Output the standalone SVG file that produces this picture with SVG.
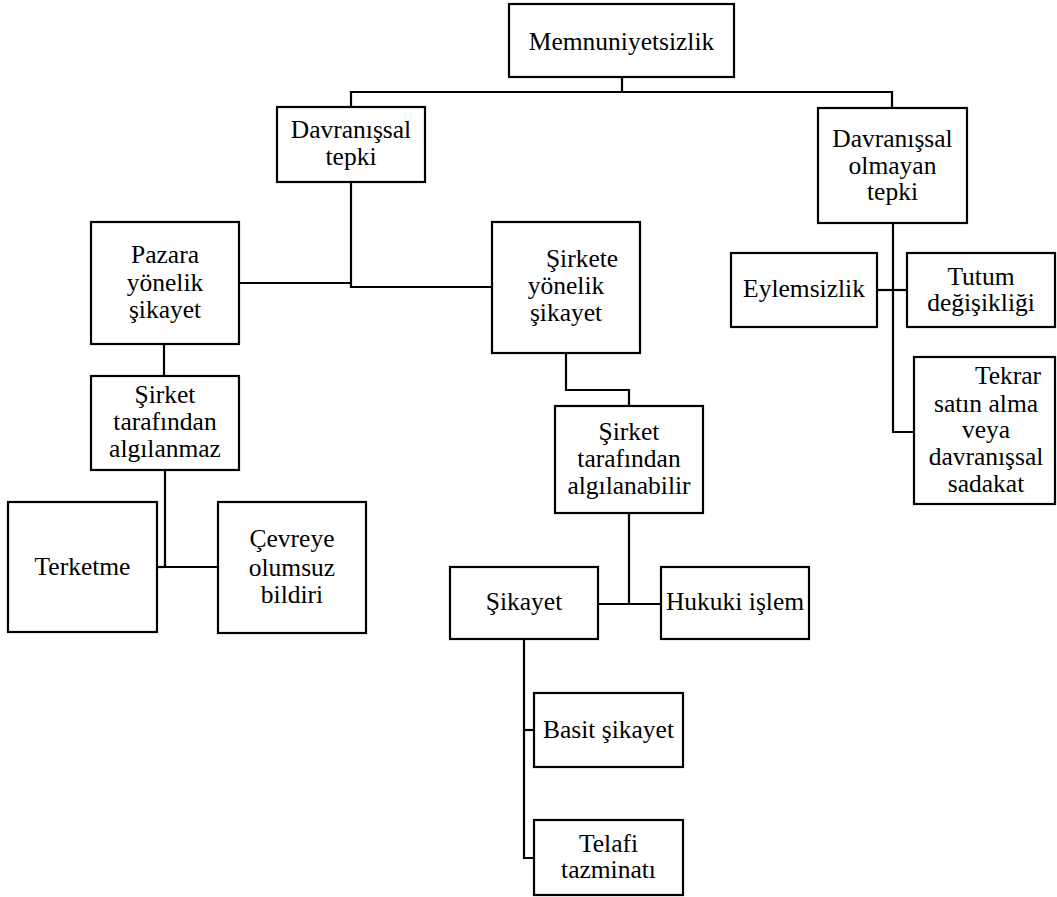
<svg xmlns="http://www.w3.org/2000/svg" width="1057" height="897" viewBox="0 0 1057 897">
  <style>
    .box { fill: #ffffff; stroke: #000000; stroke-width: 2.2; }
    .lbl { font-family: "Liberation Serif", "Times New Roman", Times, serif; font-size: 25.5px; fill: #000000; text-anchor: middle; }
    .wire { fill: none; stroke: #000000; stroke-width: 2.2; }
  </style>
  <rect width="1057" height="897" fill="#ffffff"/>

  <!-- connectors -->
  <g id="connectors">
    <path class="wire" d="M622 77 V92"/>
    <path class="wire" d="M351 107 V92 H892 V108"/>
    <path class="wire" d="M351 182 V287 H492"/>
    <path class="wire" d="M239 283 H351"/>
    <path class="wire" d="M164 344 V376"/>
    <path class="wire" d="M165 470 V567 H218"/>
    <path class="wire" d="M157 567 H165"/>
    <path class="wire" d="M566 353 V390 H629 V406"/>
    <path class="wire" d="M629 513 V604"/>
    <path class="wire" d="M598 604 H661"/>
    <path class="wire" d="M524 639 V858 H534"/>
    <path class="wire" d="M524 730 H534"/>
    <path class="wire" d="M893 223 V432 H914"/>
    <path class="wire" d="M877 290 H907"/>
  </g>

  <g id="memnuniyetsizlik">
    <rect class="box" x="509" y="4" width="225" height="73"/>
    <text class="lbl" x="621.5" y="50">Memnuniyetsizlik</text>
  </g>

  <g id="davranissal-tepki">
    <rect class="box" x="277" y="107" width="148" height="75"/>
    <text class="lbl" x="351" y="138">Davranışsal</text>
    <text class="lbl" x="351" y="165">tepki</text>
  </g>

  <g id="davranissal-olmayan-tepki">
    <rect class="box" x="818" y="108" width="149" height="115"/>
    <text class="lbl" x="892.5" y="147">Davranışsal</text>
    <text class="lbl" x="892.5" y="174">olmayan</text>
    <text class="lbl" x="892.5" y="200">tepki</text>
  </g>

  <g id="pazara-yonelik-sikayet">
    <rect class="box" x="91" y="222" width="148" height="122"/>
    <text class="lbl" x="165" y="263">Pazara</text>
    <text class="lbl" x="165" y="291">yönelik</text>
    <text class="lbl" x="165" y="318">şikayet</text>
  </g>

  <g id="sirkete-yonelik-sikayet">
    <rect class="box" x="492" y="222" width="148" height="131"/>
    <text class="lbl" x="582" y="267">Şirkete</text>
    <text class="lbl" x="566" y="294">yönelik</text>
    <text class="lbl" x="566" y="321">şikayet</text>
  </g>

  <g id="algilanmaz">
    <rect class="box" x="91" y="376" width="148" height="94"/>
    <text class="lbl" x="165" y="403">Şirket</text>
    <text class="lbl" x="165" y="430">tarafından</text>
    <text class="lbl" x="165" y="457">algılanmaz</text>
  </g>

  <g id="algilanabilir">
    <rect class="box" x="555" y="406" width="148" height="107"/>
    <text class="lbl" x="629" y="440">Şirket</text>
    <text class="lbl" x="629" y="467">tarafından</text>
    <text class="lbl" x="629" y="494">algılanabilir</text>
  </g>

  <g id="terketme">
    <rect class="box" x="8" y="502" width="149" height="130"/>
    <text class="lbl" x="82.5" y="575">Terketme</text>
  </g>

  <g id="cevreye-olumsuz-bildiri">
    <rect class="box" x="218" y="502" width="148" height="131"/>
    <text class="lbl" x="292" y="547">Çevreye</text>
    <text class="lbl" x="292" y="576">olumsuz</text>
    <text class="lbl" x="292" y="603">bildiri</text>
  </g>

  <g id="sikayet">
    <rect class="box" x="450" y="567" width="148" height="72"/>
    <text class="lbl" x="524" y="610">Şikayet</text>
  </g>

  <g id="hukuki-islem">
    <rect class="box" x="661" y="567" width="148" height="72"/>
    <text class="lbl" x="735" y="610">Hukuki işlem</text>
  </g>

  <g id="basit-sikayet">
    <rect class="box" x="534" y="693" width="149" height="74"/>
    <text class="lbl" x="608.5" y="738">Basit şikayet</text>
  </g>

  <g id="telafi-tazminati">
    <rect class="box" x="534" y="820" width="149" height="75"/>
    <text class="lbl" x="608.5" y="852">Telafi</text>
    <text class="lbl" x="608.5" y="878">tazminatı</text>
  </g>

  <g id="eylemsizlik">
    <rect class="box" x="731" y="253" width="146" height="74"/>
    <text class="lbl" x="804" y="297">Eylemsizlik</text>
  </g>

  <g id="tutum-degisikligi">
    <rect class="box" x="907" y="253" width="148" height="74"/>
    <text class="lbl" x="981" y="285">Tutum</text>
    <text class="lbl" x="981" y="311">değişikliği</text>
  </g>

  <g id="tekrar-satin-alma">
    <rect class="box" x="914" y="357" width="141" height="147"/>
    <text class="lbl" x="1008" y="384">Tekrar</text>
    <text class="lbl" x="986" y="412">satın alma</text>
    <text class="lbl" x="986" y="438">veya</text>
    <text class="lbl" x="986" y="465">davranışsal</text>
    <text class="lbl" x="986" y="492">sadakat</text>
  </g>
</svg>
